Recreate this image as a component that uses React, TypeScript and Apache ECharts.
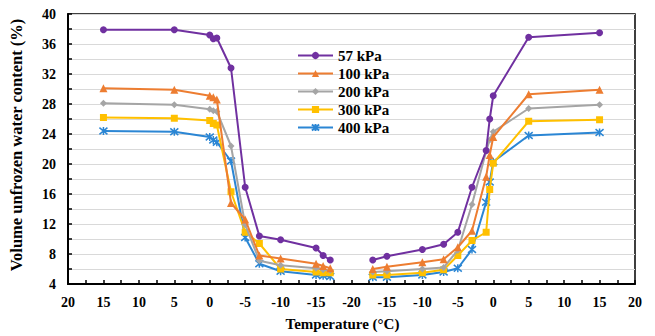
import { useEffect, useRef } from 'react';
import * as echarts from 'echarts';

const seriesNames = ['57 kPa', '100 kPa', '200 kPa', '300 kPa', '400 kPa'];
const seriesColors = ['#7030A0', '#ED7D31', '#A5A5A5', '#FFC000', '#2B86D4'];

// Cooling branch temperatures (°C), plotted on the left half
const coolingTemps = [15, 5, 0, -0.5, -1, -3, -5, -7, -10, -15, -16, -17];
// Warming branch temperatures (°C), plotted on the right half
const warmingTemps = [-17, -15, -10, -7, -5, -3, -1, -0.5, 0, 5, 15];

const cooling57 = [37.9, 37.9, 37.2, 36.7, 36.8, 32.8, 16.9, 10.4, 9.9, 8.8, 7.8, 7.2];
const cooling100 = [30.1, 29.9, 29.1, 28.9, 28.6, 14.8, 12.6, 7.8, 7.4, 6.7, 6.4, 6.1];
const cooling200 = [28.1, 27.9, 27.3, 27.1, 27.0, 22.4, 11.9, 7.1, 6.5, 6.1, 5.9, 5.8];
const cooling300 = [26.2, 26.1, 25.8, 25.4, 25.2, 16.3, 10.9, 9.4, 6.0, 5.6, 5.5, 5.5];
const cooling400 = [24.4, 24.3, 23.6, 23.2, 22.9, 20.4, 10.2, 6.7, 5.7, 5.2, 5.1, 5.0];

const warming57 = [7.2, 7.7, 8.6, 9.3, 10.9, 16.9, 21.8, 26.0, 29.1, 36.9, 37.5];
const warming100 = [6.0, 6.3, 6.9, 7.3, 8.9, 11.1, 18.3, 21.2, 23.6, 29.3, 29.9];
const warming200 = [5.6, 5.7, 6.0, 6.2, 8.5, 14.6, 21.7, 23.2, 24.3, 27.4, 27.9];
const warming300 = [5.2, 5.2, 5.5, 5.9, 7.8, 9.8, 10.9, 16.6, 20.1, 25.7, 25.9];
const warming400 = [4.9, 4.9, 5.2, 5.6, 6.1, 8.6, 14.9, 17.6, 20.3, 23.8, 24.2];

const coolingValues = [cooling57, cooling100, cooling200, cooling300, cooling400];
const warmingValues = [warming57, warming100, warming200, warming300, warming400];

const symbols = ['circle', 'triangle', 'diamond', 'rect', 'path://M0,0L10,10M10,0L0,10M5,-1L5,11'];
const symbolSizes = [7, 8, 7, 7, 8];

const FONT = '"Liberation Serif", "Times New Roman", serif';

// Axis position: cooling T -> 20 - T, warming T -> 60 + T
const coolPos = (t: number) => 20 - t;
const warmPos = (t: number) => 60 + t;
const axisLabelFor = (u: number) => {
  if (Math.abs(u % 5) > 1e-6) return '';
  const t = u <= 40 ? 20 - u : u - 60;
  return String(t);
};

export default function App() {
  const ref = useRef<HTMLDivElement>(null);
  useEffect(() => {
    document.body.style.margin = '0';
    if (!ref.current) return;
    const chart = echarts.init(ref.current, undefined, { renderer: 'svg' });
    const series: any[] = [];
    seriesNames.forEach((name, i) => {
      const isStar = i === 4;
      const common = {
        name,
        type: 'line',
        symbol: symbols[i],
        symbolSize: symbolSizes[i],
        showAllSymbol: true,
        color: seriesColors[i],
        lineStyle: { color: seriesColors[i], width: 2 },
        itemStyle: isStar
          ? { color: seriesColors[i], borderColor: seriesColors[i], borderWidth: 1.5 }
          : { color: seriesColors[i], borderWidth: 0 },
        emphasis: { disabled: true },
        z: 10 - i,
      };
      series.push({
        ...common,
        data: coolingTemps.map((t, k) => [coolPos(t), coolingValues[i][k]]),
      });
      series.push({
        ...common,
        data: warmingTemps.map((t, k) => [warmPos(t), warmingValues[i][k]]),
      });
    });
    chart.setOption({
      animation: false,
      textStyle: { fontFamily: FONT },
      grid: {
        left: 60,
        right: 20,
        top: 14,
        bottom: 49,
        show: true,
        borderColor: '#000',
        borderWidth: 1.5,
      },
      legend: {
        data: seriesNames,
        orient: 'vertical',
        left: 297,
        top: 48,
        padding: 0,
        itemWidth: 35,
        itemHeight: 9,
        itemGap: 3,
        textStyle: {
          fontFamily: FONT,
          fontWeight: 'bold',
          fontSize: 15,
          color: '#000',
          lineHeight: 14,
        },
      },
      xAxis: {
        type: 'value',
        min: 0,
        max: 80,
        interval: 2.5,
        name: 'Temperature (°C)',
        nameLocation: 'middle',
        nameGap: 32,
        nameTextStyle: {
          fontFamily: FONT,
          fontWeight: 'bold',
          fontSize: 15,
          color: '#000',
          padding: [0, 18, 0, 0],
        },
        axisLine: { lineStyle: { color: '#000', width: 2 } },
        axisTick: { inside: true, length: 4, lineStyle: { color: '#000', width: 1.5 } },
        axisLabel: {
          formatter: axisLabelFor,
          fontFamily: FONT,
          fontWeight: 'bold',
          fontSize: 14,
          color: '#000',
          margin: 11,
        },
        splitLine: { show: false },
      },
      yAxis: {
        type: 'value',
        min: 4,
        max: 40,
        interval: 2,
        name: 'Volume unfrozen water content (%)',
        nameLocation: 'middle',
        nameGap: 43,
        nameTextStyle: {
          fontFamily: FONT,
          fontWeight: 'bold',
          fontSize: 16.5,
          color: '#000',
          padding: [0, 0, 0, 8],
        },
        axisLine: { show: true, lineStyle: { color: '#000', width: 2 } },
        axisTick: { show: true, inside: true, length: 4, lineStyle: { color: '#000', width: 1.5 } },
        axisLabel: {
          formatter: (v: number) => (v % 4 === 0 ? String(v) : ''),
          fontFamily: FONT,
          fontWeight: 'bold',
          fontSize: 14,
          color: '#000',
          margin: 12,
        },
        splitLine: { show: true, lineStyle: { color: '#D9D9D9', width: 1.2 } },
      },
      series,
    });
    return () => chart.dispose();
  }, []);
  return <div ref={ref} style={{ width: 655, height: 336 }} />;
}
